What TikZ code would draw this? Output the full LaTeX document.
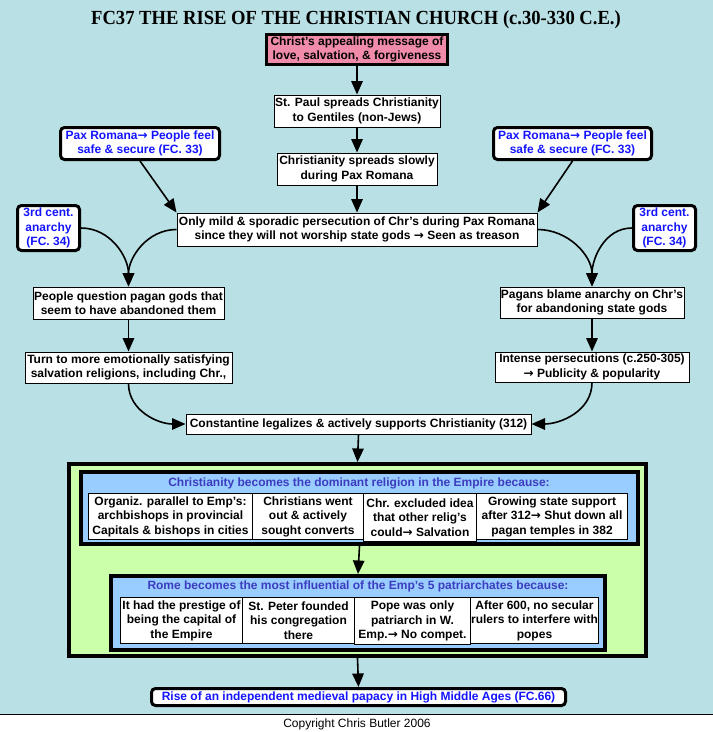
\documentclass[tikz,border=0pt]{standalone}
\usepackage{fontspec}
\setmainfont{Liberation Sans}
\newfontfamily\titlefont[FakeStretch=0.93]{Liberation Serif}
\newfontfamily\arrowfont{DejaVu Sans}
\newcommand{\rarr}{{\arrowfont\bfseries →}}
\usetikzlibrary{arrows.meta}
\definecolor{bgteal}{RGB}{185,224,228}
\definecolor{pinkbox}{RGB}{240,140,170}
\definecolor{greenbox}{RGB}{204,255,170}
\definecolor{bluebox}{RGB}{153,204,255}
\definecolor{paxblue}{RGB}{20,20,255}
\definecolor{slateblue}{RGB}{60,60,190}
\tikzset{
  txt/.style={font=\bfseries\fontsize{12pt}{14.5pt}\selectfont, align=center, inner sep=0pt},
  plainbox/.style={txt, draw, fill=white, line width=1pt},
  thickbox/.style={txt, draw, fill=white, line width=3pt, rounded corners=4pt, text=paxblue},
  cell/.style={plainbox, anchor=north west},
  frame/.style={draw, line width=4pt, inner sep=0pt},
  arr/.style={line width=1.6pt, -{Triangle[length=13.5pt,width=11.5pt]}},
}
\begin{document}
\begin{tikzpicture}[x=1pt,y=-1pt]
\useasboundingbox (0,0) rectangle (713,732);
\fill[bgteal] (0,0) rectangle (713,714);
\draw[line width=1pt] (0,714) coordinate (bl) -- (713,714) coordinate (br);
\node[font=\titlefont\bfseries\fontsize{20pt}{22pt}\selectfont, inner sep=0pt] (title) at (356,20) {FC37 THE RISE OF THE CHRISTIAN CHURCH (c.30-330 C.E.)};
\node[txt, font=\fontsize{12pt}{14pt}\selectfont] (copy) at (357,724) {Copyright Chris Butler 2006};

\node[plainbox, fill=pinkbox, line width=3pt, minimum width=181pt, minimum height=30pt] (pink) at (357,49.5) {Christ’s appealing message of\\love, salvation, \& forgiveness};
\node[plainbox, minimum width=166pt, minimum height=32pt] (paul) at (357,111) {St. Paul spreads Christianity\\to Gentiles (non-Jews)};
\node[plainbox, minimum width=160pt, minimum height=32pt] (slowly) at (357,169) {Christianity spreads slowly\\during Pax Romana};
\node[thickbox, minimum width=159pt, minimum height=32pt] (paxL) at (140,143.5) {Pax Romana\rarr{} People feel\\safe \& secure (FC. 33)};
\node[thickbox, minimum width=158pt, minimum height=32pt] (paxR) at (572.5,143.5) {Pax Romana\rarr{} People feel\\safe \& secure (FC. 33)};
\node[thickbox, minimum width=62pt, minimum height=45pt] (anarL) at (48.5,228) {3rd cent.\\anarchy\\(FC. 34)};
\node[thickbox, minimum width=62pt, minimum height=45pt] (anarR) at (664.5,228) {3rd cent.\\anarchy\\(FC. 34)};
\node[plainbox, minimum width=360pt, minimum height=33pt] (mild) at (357,229.5) {Only mild \& sporadic persecution of Chr’s during Pax Romana\\since they will not worship state gods \rarr{} Seen as treason};
\node[plainbox, minimum width=191pt, minimum height=32pt] (question) at (128.5,303) {People question pagan gods that\\seem to have abandoned them};
\node[plainbox, minimum width=184pt, minimum height=31pt] (blame) at (592,302.5) {Pagans blame anarchy on Chr’s\\for abandoning state gods};
\node[plainbox, minimum width=207pt, minimum height=31pt] (turn) at (128.5,367.5) {Turn to more emotionally satisfying\\salvation religions, including Chr.,};
\node[plainbox, minimum width=194pt, minimum height=30pt] (intense) at (592,367) {Intense persecutions (c.250-305)\\\rarr{} Publicity \& popularity};
\node[plainbox, minimum width=345pt, minimum height=20pt] (const) at (358.5,424) {Constantine legalizes \& actively supports Christianity (312)};

\node[frame, fill=greenbox, minimum width=577pt, minimum height=192pt] (green) at (357.5,560) {};
\node[frame, fill=bluebox, minimum width=557pt, minimum height=72pt] (blue1) at (359.5,508) {};
\node[txt, text=slateblue] (t1) at (359,483) {Christianity becomes the dominant religion in the Empire because:};
\node[cell, minimum width=164pt, minimum height=46pt] (c1) at (88,493) {Organiz. parallel to Emp’s:\\archbishops in provincial\\Capitals \& bishops in cities};
\node[cell, minimum width=111pt, minimum height=46pt] (c2) at (252,493) {Christians went\\out \& actively\\sought converts};
\node[cell, minimum width=113pt, minimum height=48pt] (c3) at (363,493) {Chr. excluded idea\\that other relig’s\\could\rarr{} Salvation};
\node[cell, minimum width=151pt, minimum height=46pt] (c4) at (476,493) {Growing state support\\after 312\rarr{} Shut down all\\pagan temples in 382};

\node[frame, fill=bluebox, minimum width=494pt, minimum height=74pt] (blue2) at (358,613) {};
\node[txt, text=slateblue] (t2) at (358,586) {Rome becomes the most influential of the Emp’s 5 patriarchates because:};
\node[cell, minimum width=122pt, minimum height=46pt] (d1) at (120,597) {It had the prestige of\\being the capital of\\the Empire};
\node[cell, minimum width=112pt, minimum height=46pt] (d2) at (242,597) {St. Peter founded\\his congregation\\there};
\node[cell, minimum width=116pt, minimum height=47pt] (d3) at (354,597) {Pope was only\\patriarch in W.\\Emp.\rarr{} No compet.};
\node[cell, minimum width=128pt, minimum height=46pt] (d4) at (470,597) {After 600, no secular\\rulers to interfere with\\popes};

\node[thickbox, minimum width=414pt, minimum height=17pt] (final) at (358.5,697) {Rise of an independent medieval papacy in High Middle Ages (FC.66)};

\draw[arr] (pink) -- (paul);
\draw[arr] (paul) -- (slowly);
\draw[arr] (slowly) -- (mild);
\draw[arr] (paxL.south) -- (mild.north west);
\draw[arr] (paxR.south) -- (mild.north east);
\draw[arr] (anarL.east) to[out=0,in=90] (question.north);
\draw[arr] (mild.west) to[out=180,in=90] (question.north);
\draw[arr] (anarR.west) to[out=180,in=90] (blame.north);
\draw[arr] (mild.east) to[out=0,in=90] (blame.north);
\draw[arr] (question) -- (turn);
\draw[arr] (blame) -- (intense);
\draw[arr] (turn.south) to[out=-90,in=180] (const.west);
\draw[arr] (intense.south) to[out=-90,in=0] (const.east);
\draw[arr] (const.south) -- (green.north);
\draw[arr] (blue1.south) -- (blue2.north);
\draw[arr] (green.south) -- (final.north);
\end{tikzpicture}
\end{document}
